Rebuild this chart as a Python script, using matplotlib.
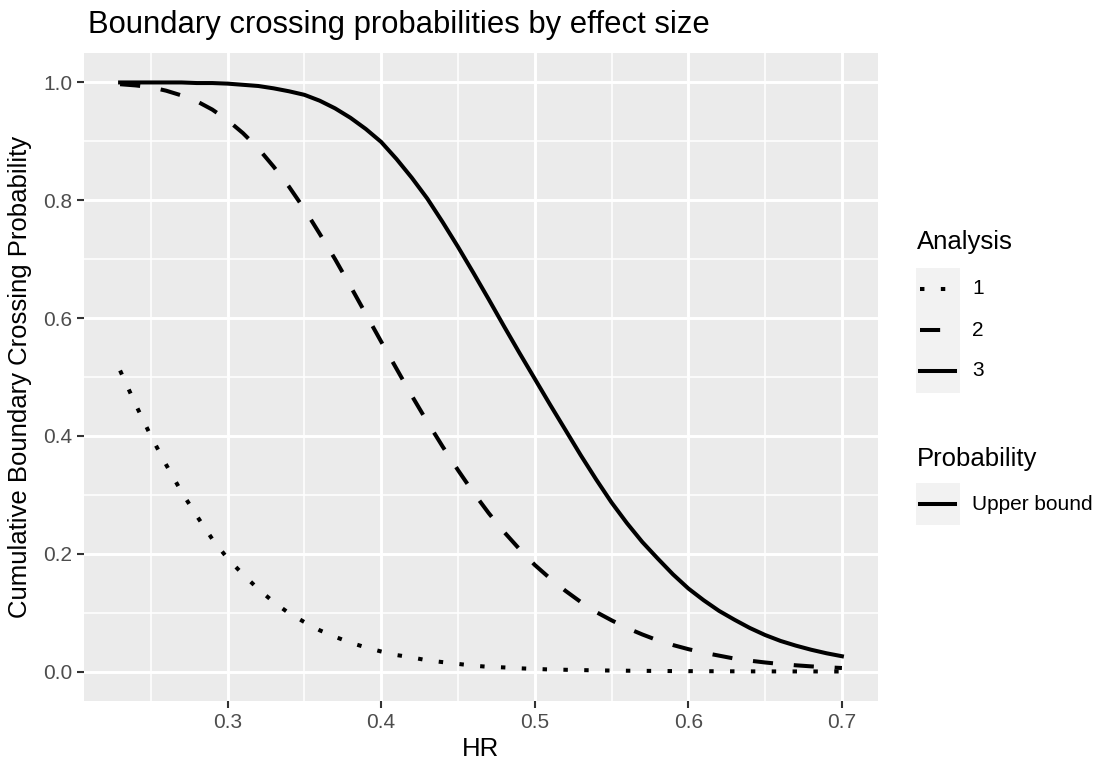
import matplotlib
matplotlib.use("Agg")
import matplotlib.pyplot as plt
from matplotlib.lines import Line2D
from matplotlib.patches import Rectangle
from matplotlib.ticker import MultipleLocator

plt.rcParams['font.family'] = ['Liberation Sans', 'DejaVu Sans']
plt.rcParams['lines.scale_dashes'] = False

# ---- data ----
hr = [0.23, 0.24, 0.25, 0.26, 0.27, 0.28, 0.29, 0.30, 0.31, 0.32,
      0.33, 0.34, 0.35, 0.36, 0.37, 0.38, 0.39, 0.40, 0.41, 0.42,
      0.43, 0.44, 0.45, 0.46, 0.47, 0.48, 0.49, 0.50, 0.51, 0.52,
      0.53, 0.54, 0.55, 0.56, 0.57, 0.58, 0.59, 0.60, 0.61, 0.62,
      0.63, 0.64, 0.65, 0.66, 0.67, 0.68, 0.69, 0.70]
analysis1 = [0.511, 0.454, 0.400, 0.351, 0.305, 0.264, 0.225, 0.192, 0.165, 0.140,
             0.118, 0.099, 0.084, 0.070, 0.059, 0.049, 0.041, 0.034, 0.028, 0.024,
             0.019, 0.016, 0.013, 0.010, 0.008, 0.007, 0.0055, 0.0045, 0.0035, 0.003,
             0.0025, 0.002, 0.0017, 0.0014, 0.0012, 0.001, 0.0008, 0.0007, 0.0006, 0.0005,
             0.0004, 0.0003, 0.0003, 0.0002, 0.0002, 0.0002, 0.0001, 0.0001]
analysis2 = [0.997, 0.995, 0.992, 0.986, 0.978, 0.968, 0.954, 0.936, 0.914, 0.888,
             0.857, 0.823, 0.785, 0.743, 0.700, 0.654, 0.607, 0.560, 0.514, 0.468,
             0.424, 0.382, 0.342, 0.304, 0.269, 0.237, 0.208, 0.181, 0.158, 0.137,
             0.118, 0.101, 0.087, 0.074, 0.063, 0.053, 0.045, 0.038, 0.032, 0.027,
             0.022, 0.0185, 0.0154, 0.0128, 0.0106, 0.0088, 0.0073, 0.006]
analysis3 = [1.000, 1.000, 1.000, 1.000, 1.000, 0.999, 0.999, 0.998, 0.996, 0.994,
             0.990, 0.985, 0.979, 0.969, 0.956, 0.940, 0.921, 0.899, 0.870, 0.838,
             0.803, 0.763, 0.721, 0.677, 0.632, 0.586, 0.541, 0.497, 0.453, 0.410,
             0.367, 0.326, 0.287, 0.252, 0.220, 0.192, 0.165, 0.141, 0.121, 0.103,
             0.088, 0.074, 0.062, 0.052, 0.044, 0.037, 0.031, 0.026]
analysis_labels = ["1", "2", "3"]
probability_labels = ["Upper bound"]
x_ticks = [0.3, 0.4, 0.5, 0.6, 0.7]
y_ticks = [0.0, 0.2, 0.4, 0.6, 0.8, 1.0]

W, H = 1104, 762
fig = plt.figure(figsize=(W / 100, H / 100), dpi=100)

def fx(px):
    return px / W

def fy(py):
    return 1 - py / H

ax = fig.add_axes([fx(84), fy(701), (878 - 84) / W, (701 - 53) / H])
ax.set_facecolor('#EBEBEB')
for s in ax.spines.values():
    s.set_visible(False)

LW = 2.9
styles = {
    "1": dict(linestyle=(0, (3.2, 11.8)), dash_capstyle='butt'),
    "2": dict(linestyle=(0, (14.5, 15.0)), dash_capstyle='butt'),
    "3": dict(linestyle='-'),
}
series = {"1": analysis1, "2": analysis2, "3": analysis3}
for k in analysis_labels:
    ax.plot(hr, series[k], color='black', lw=LW, zorder=3, **styles[k])

ax.set_xlim(0.2065, 0.7235)
ax.set_ylim(-0.05, 1.05)
ax.xaxis.set_minor_locator(MultipleLocator(0.05))
ax.yaxis.set_minor_locator(MultipleLocator(0.1))
ax.set_xticks(x_ticks)
ax.set_yticks(y_ticks)
ax.set_xticklabels([f"{v:.1f}" for v in x_ticks])
ax.set_yticklabels([f"{v:.1f}" for v in y_ticks])
ax.grid(which='major', color='white', lw=2.1, zorder=1)
ax.grid(which='minor', color='white', lw=1.1, zorder=1)
ax.set_axisbelow(True)
ax.tick_params(which='major', length=5, width=1.5, color='#333333',
               labelcolor='#4D4D4D', labelsize=15, pad=3.5)
ax.tick_params(which='minor', length=0)

ax.set_xlabel("HR", fontsize=18.5, color='black', labelpad=4)
ax.set_ylabel("Cumulative Boundary Crossing Probability", fontsize=18.5,
              color='black', labelpad=8)

fig.text(fx(88), fy(25), "Boundary crossing probabilities by effect size",
         fontsize=22.3, ha='left', va='center', color='black')

# ---- legends ----
fig.text(fx(917), fy(242), "Analysis", fontsize=18.5, ha='left', va='center')
fig.add_artist(Rectangle((fx(916), fy(393)), (960 - 916) / W, (393 - 268) / H,
                         transform=fig.transFigure, facecolor='#F2F2F2',
                         edgecolor='none'))
rows = [289, 330, 371]
for k, ry in zip(analysis_labels, rows):
    fig.add_artist(Line2D([fx(920), fx(955)], [fy(ry), fy(ry)],
                          transform=fig.transFigure, color='black', lw=LW,
                          **styles[k]))
    fig.text(fx(972), fy(ry), k, fontsize=15, ha='left', va='center')

fig.text(fx(917), fy(459), "Probability", fontsize=18.5, ha='left', va='center')
fig.add_artist(Rectangle((fx(916), fy(525)), (960 - 916) / W, (525 - 483) / H,
                         transform=fig.transFigure, facecolor='#F2F2F2',
                         edgecolor='none'))
fig.add_artist(Line2D([fx(920), fx(955)], [fy(504), fy(504)],
                      transform=fig.transFigure, color='black', lw=LW))
fig.text(fx(972), fy(504), probability_labels[0], fontsize=15, ha='left', va='center')

fig.savefig("out.png", dpi=100, facecolor='white')
